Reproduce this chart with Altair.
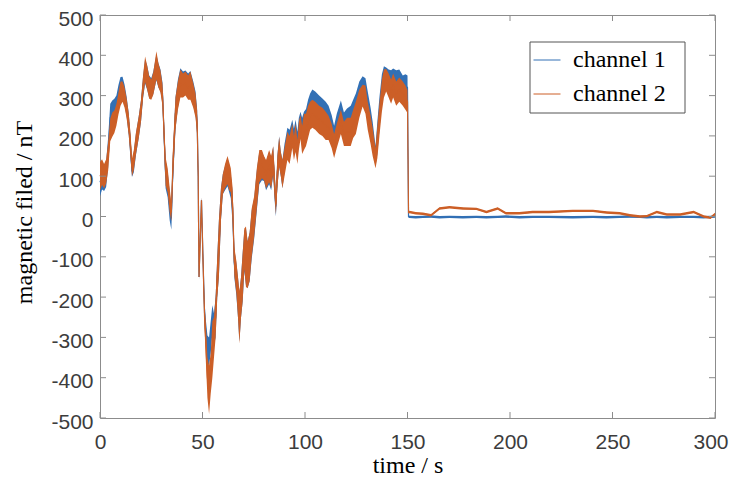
import altair as alt
import pandas as pd

# ---------------- data ----------------
t_s = [0, 1, 2, 3, 4, 5, 6, 7, 8, 9, 10, 11, 12, 13, 14, 15, 15.6, 16.5, 17.5, 18.9,
       20, 21, 22, 23, 24, 25, 26, 27.5, 28.5, 29.5, 30.5, 31.3, 32, 33, 34, 34.8, 35.5,
       36.8, 38, 39.2, 40.5, 41.7, 43, 44.1, 45.5, 46.6, 47.4, 47.9, 48.3, 49.5, 50.3,
       51, 51.6, 52.4, 53.2, 54, 54.8, 55.6, 56.4, 57.2, 58, 59, 59.9, 61, 62.2, 63,
       63.8, 64.7, 65.5, 66.5, 67.3, 68, 68.8, 69.6, 70.4, 71.2, 72, 73, 74, 75.2, 76.5,
       77.7, 79, 80, 81, 82.5, 83.5, 84.5, 85.2, 85.8, 86.5, 87.4, 88.2, 89, 90, 91.4,
       92.5, 93.8, 94.6, 95.4, 96.3, 97, 97.8, 98.6, 99.5, 100.5, 101.5, 102.5, 103.6,
       105, 106.9, 108.5, 110.1, 111.5, 113, 114.2, 115.5, 117.5, 119, 120.5, 122.3,
       123.5, 124.8, 126.5, 128.1, 129.5, 130.6, 132, 133, 134.4, 135.3, 136.3, 137.5,
       138.5, 139.6, 140.8, 142, 143, 144.5, 146, 147.7, 149, 150, 150.5,
       151, 154, 157.5, 161.5, 165.6, 170.5, 177, 183.6, 188.5, 194, 198, 204.6, 211,
       219, 230.6, 240.5, 247, 253.5, 258.5, 263.4, 266.7, 271.6, 276.5, 283, 289.6,
       294.5, 297.8, 300]

ch2_mid = [100, 110, 100, 112, 150, 215, 228, 235, 252, 280, 305, 310, 295, 268, 230, 170, 122, 140, 180, 222,
           262, 322, 365, 345, 320, 315, 330, 375, 350, 335, 300, 200, 112, 90, 40, 10, 120,
           255, 300, 330, 325, 330, 320, 325, 300, 275, 232, 100, -150, 40, -120,
           -250, -310, -400, -430, -390, -330, -300, -250, -150, -80, 30, 80, 100, 115, 100,
           90, 30, -110, -150, -200, -250, -200, -150, -80, -100, -120, -100, -40, 0, 70,
           125, 130, 120, 105, 125, 110, 140, 80, 30, 110, 160, 130, 105, 135, 175,
           165, 200, 170, 195, 160, 200, 222, 190, 210, 215, 235, 250, 255,
           250, 240, 235, 225, 220, 200, 175, 200, 235, 205, 210, 210,
           230, 245, 280, 300, 290, 250, 215, 185, 145, 185, 240, 300,
           330, 338, 325, 310, 325, 305, 315, 305, 295, 285, 10,
           11, 8, 7, 3, 20, 23, 20, 19, 11, 20, 8, 8, 11,
           11, 14, 14, 10, 8, 3, 0, 1, 11, 5, 5, 11,
           0, -3, 6]
ch2_half = [35, 32, 30, 30, 35, 28, 30, 28, 27, 27, 30, 25, 25, 25, 27, 30, 22, 25, 27, 27,
            27, 27, 32, 30, 28, 25, 28, 35, 30, 27, 27, 32, 35, 30, 30, 22, 40,
            40, 35, 35, 30, 30, 30, 35, 30, 30, 30, 15, 6, 8, 20,
            30, 45, 50, 60, 50, 70, 50, 50, 50, 70, 40, 25, 30, 35, 35,
            30, 40, 35, 40, 50, 65, 50, 60, 50, 75, 58, 60, 60, 50, 50,
            40, 35, 30, 35, 40, 40, 35, 35, 25, 40, 37, 30, 35, 35, 35,
            35, 30, 30, 35, 30, 35, 30, 35, 45, 40, 40, 35, 35,
            35, 35, 35, 35, 30, 30, 30, 30, 30, 30, 35, 35,
            35, 40, 35, 27, 35, 35, 35, 35, 25, 40, 40, 40,
            35, 28, 30, 30, 30, 30, 30, 30, 30, 28, 3,
            3, 3, 3, 3, 3, 3, 3, 3, 3, 3, 3, 3, 3,
            3, 3, 3, 3, 3, 3, 3, 3, 3, 3, 3, 3,
            3, 3, 3]

ch1_mid = [85, 100, 95, 105, 160, 245, 255, 262, 272, 298, 318, 322, 302, 272, 230, 165, 112, 135, 178, 222,
           262, 320, 360, 345, 322, 318, 332, 370, 350, 338, 305, 195, 105, 80, 25, -5, 110,
           255, 305, 335, 330, 332, 325, 328, 305, 280, 235, 100, -150, 40, -115,
           -240, -290, -330, -335, -300, -255, -280, -250, -150, -80, 30, 80, 95, 110, 95,
           75, 20, -115, -155, -200, -250, -200, -150, -85, -100, -120, -100, -45, -5, 65,
           120, 125, 118, 100, 120, 105, 138, 75, 25, 110, 162, 130, 105, 145, 190,
           180, 215, 188, 210, 180, 215, 232, 210, 225, 232, 255, 270, 280,
           275, 265, 258, 250, 245, 222, 195, 225, 258, 228, 235, 240,
           255, 270, 302, 320, 310, 275, 235, 200, 150, 195, 255, 315,
           340, 345, 340, 335, 340, 335, 340, 325, 325, 320, 0,
           -1, -2, -1, 0, -2, -1, -2, -1, -2, -1, 0, -2, -1,
           -1, -2, -1, -2, -1, 0, -1, -2, -1, -2, -1, -1,
           -2, -1, 0]
ch1_half = [35, 33, 32, 32, 38, 35, 33, 30, 28, 28, 28, 25, 25, 25, 27, 30, 14, 25, 27, 27,
            27, 27, 30, 30, 28, 25, 28, 32, 30, 27, 27, 32, 35, 32, 35, 28, 40,
            40, 35, 33, 30, 30, 30, 33, 30, 30, 30, 15, 6, 8, 20,
            30, 35, 35, 35, 40, 35, 40, 50, 50, 70, 40, 25, 30, 35, 35,
            30, 40, 35, 40, 50, 60, 50, 60, 50, 70, 58, 60, 60, 50, 50,
            40, 35, 30, 35, 40, 40, 35, 35, 25, 40, 37, 30, 35, 35, 30,
            35, 25, 30, 30, 30, 30, 28, 35, 35, 35, 35, 35, 35,
            35, 35, 35, 35, 30, 30, 30, 30, 30, 30, 33, 35,
            35, 35, 33, 28, 33, 35, 35, 35, 25, 40, 40, 38,
            33, 25, 25, 28, 27, 28, 25, 25, 28, 30, 3,
            3, 3, 3, 3, 3, 3, 3, 3, 3, 3, 3, 3, 3,
            3, 3, 3, 3, 3, 3, 3, 3, 3, 3, 3, 3,
            3, 3, 3]

channels = ["channel 1", "channel 2"]
x_ticks = [0, 50, 100, 150, 200, 250, 300]
y_ticks = [-500, -400, -300, -200, -100, 0, 100, 200, 300, 400, 500]

BLUE = "#3270b5"
ORANGE = "#cc5f27"
FRAME = "#8c8c8c"

rows = []
for ch, mids, halfs in [(channels[0], ch1_mid, ch1_half), (channels[1], ch2_mid, ch2_half)]:
    for t, m, h in zip(t_s, mids, halfs):
        rows.append({"t": t, "channel": ch, "lo": m - h, "hi": m + h, "mid": m})
df = pd.DataFrame(rows)

W, H = 615, 403
xs = alt.Scale(domain=[0, 300], nice=False, zero=False)
ys = alt.Scale(domain=[-500, 500], nice=False, zero=False)
cs = alt.Scale(domain=channels, range=[BLUE, ORANGE])

x_axis = alt.Axis(values=x_ticks, format="d", ticks=False, tickSize=0, domain=False, grid=False,
                  labelFlush=False, labelOverlap=False, labelPadding=13,
                  labelAlign={"condition": {"test": "datum.value == 300", "value": "right"}, "value": "center"},
                  labelOffset={"condition": {"test": "datum.value == 300", "value": 13}, "value": 0},
                  title="time / s", titleBaseline="alphabetic", titleY=54)
y_axis = alt.Axis(values=y_ticks, labelExpr="'' + datum.value", ticks=False, tickSize=0,
                  domain=False, grid=False, labelFlush=False, labelOverlap=False, labelPadding=7,
                  labelOffset=4,
                  title="magnetic filed / nT", titleAngle=270, titleBaseline="middle",
                  titleX=-76, titleY=197)

X = alt.X("t:Q", scale=xs, axis=x_axis)

legend = alt.Legend(orient="none", legendX=433, legendY=31, title=None, symbolType="stroke",
                    symbolSize=729, symbolStrokeWidth=1, labelFont="Liberation Serif",
                    labelFontSize=24, labelColor="black", labelOffset=12, rowPadding=8,
                    padding=0, direction="vertical")

base = alt.Chart(df)
layers = []
for ch, col in [(channels[0], BLUE), (channels[1], ORANGE)]:
    sub = base.transform_filter(alt.datum.channel == ch)
    area = sub.mark_area(color=col, opacity=1, interpolate="linear").encode(
        x=X,
        y=alt.Y("lo:Q", scale=ys, axis=y_axis),
        y2="hi:Q",
    )
    line = sub.mark_line(strokeWidth=1.2, interpolate="linear").encode(
        x=X,
        y=alt.Y("mid:Q", scale=ys, axis=y_axis),
        color=alt.Color("channel:N", scale=cs, legend=legend),
    )
    layers += [area, line]

xt = alt.Chart(pd.DataFrame({"t": x_ticks}))
yt = alt.Chart(pd.DataFrame({"lo": y_ticks}))
tick_bottom = xt.mark_rule(color=FRAME, strokeWidth=1).encode(
    x=X, y=alt.value(H), y2=alt.value(H - 6))
tick_top = xt.mark_rule(color=FRAME, strokeWidth=1).encode(
    x=X, y=alt.value(0), y2=alt.value(6))
tick_left = yt.mark_rule(color=FRAME, strokeWidth=1).encode(
    y=alt.Y("lo:Q", scale=ys, axis=y_axis), x=alt.value(0), x2=alt.value(6))
tick_right = yt.mark_rule(color=FRAME, strokeWidth=1).encode(
    y=alt.Y("lo:Q", scale=ys, axis=y_axis), x=alt.value(W), x2=alt.value(W - 6))

legend_box = alt.Chart(pd.DataFrame({"a": [0]})).mark_rect(
    fill="white", stroke="#555555", strokeWidth=1).encode(
    x=alt.value(430), x2=alt.value(585), y=alt.value(27), y2=alt.value(98))

chart = alt.layer(*layers, tick_bottom, tick_top, tick_left, tick_right, legend_box).properties(
    width=W, height=H,
    padding={"left": 92, "top": 7, "right": 14, "bottom": 58},
    autosize=alt.AutoSizeParams(type="none"),
).configure_view(
    stroke=FRAME, strokeWidth=1
).configure_axis(
    labelFont="Liberation Sans", labelFontSize=21, labelColor="#3c3c3c",
    titleFont="Liberation Serif", titleFontSize=24, titleFontWeight="normal", titleColor="black",
)

chart.save("out.html", embed_options={"renderer": "svg", "actions": False})
